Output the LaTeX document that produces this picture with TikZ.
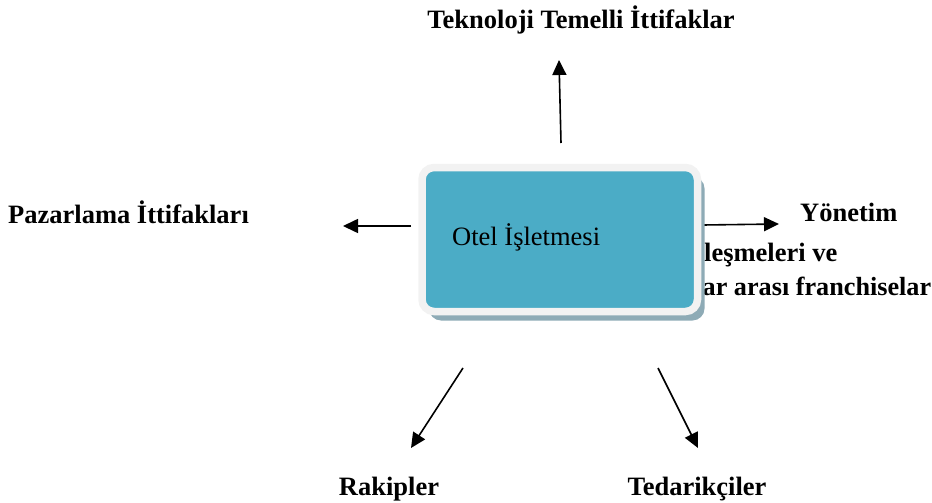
\documentclass[tikz,border=0pt]{standalone}
\usepackage{fontspec}
\setmainfont{Liberation Serif}
\usetikzlibrary{arrows.meta,shadows}
\definecolor{otelmavi}{HTML}{4BACC6}
\definecolor{kenar}{HTML}{F2F2F2}
\definecolor{golge}{HTML}{8EABB6}
\tikzset{
  baslik/.style={font=\fontsize{26.5}{30}\selectfont\bfseries,inner sep=0pt},
  ok/.style={-{Triangle[length=15pt,width=14pt]},line width=1.6pt},
  otelkutu/.style={rounded corners=12pt,fill=otelmavi,draw=kenar,line width=7.5pt,
    minimum width=275.5pt,minimum height=144pt,
    drop shadow={shadow xshift=7pt,shadow yshift=-9pt,fill=golge,opacity=1}}
}

\begin{document}
\begin{tikzpicture}[x=1pt,y=-1pt]
  \useasboundingbox (0,0) rectangle (932,503);
  \node[baslik,anchor=base](teknoloji)at(581,29){Teknoloji Temelli İttifaklar};
  \node[baslik,anchor=base west](pazarlama)at(8,223){Pazarlama İttifakları};
  \node[baslik,anchor=base west](yonetim)at(800,221){Yönetim};
  \node[baslik,anchor=base west](sozlesme)at(704,261){leşmeleri ve};
  \node[baslik,font=\fontsize{26.2}{30}\selectfont\bfseries,anchor=base west](franchise)at(702.5,295){ar arası franchiselar};
  \node[baslik,anchor=base](rakipler)at(389,495){Rakipler};
  \node[baslik,anchor=base](tedarik)at(697,495){Tedarikçiler};
  \coordinate(u1)at(561,143); \coordinate(u2)at(559,60);
  \coordinate(l1)at(411,226); \coordinate(l2)at(343,226);
  \coordinate(r1)at(703,225); \coordinate(r2)at(779,224);
  \coordinate(a1)at(463,368); \coordinate(a2)at(411,448);
  \coordinate(b1)at(658,368); \coordinate(b2)at(698,448);
  \draw[ok](u1)--(u2);
  \draw[ok](l1)--(l2);
  \draw[ok](r1)--(r2);
  \draw[ok](a1)--(a2);
  \draw[ok](b1)--(b2);
  \node[otelkutu](otel)at(559.75,239.5){};
  \node[font=\fontsize{26.5}{30}\selectfont,anchor=base west,inner sep=0pt](otelyazi)at(452,245){Otel İşletmesi};
\end{tikzpicture}
\end{document}
